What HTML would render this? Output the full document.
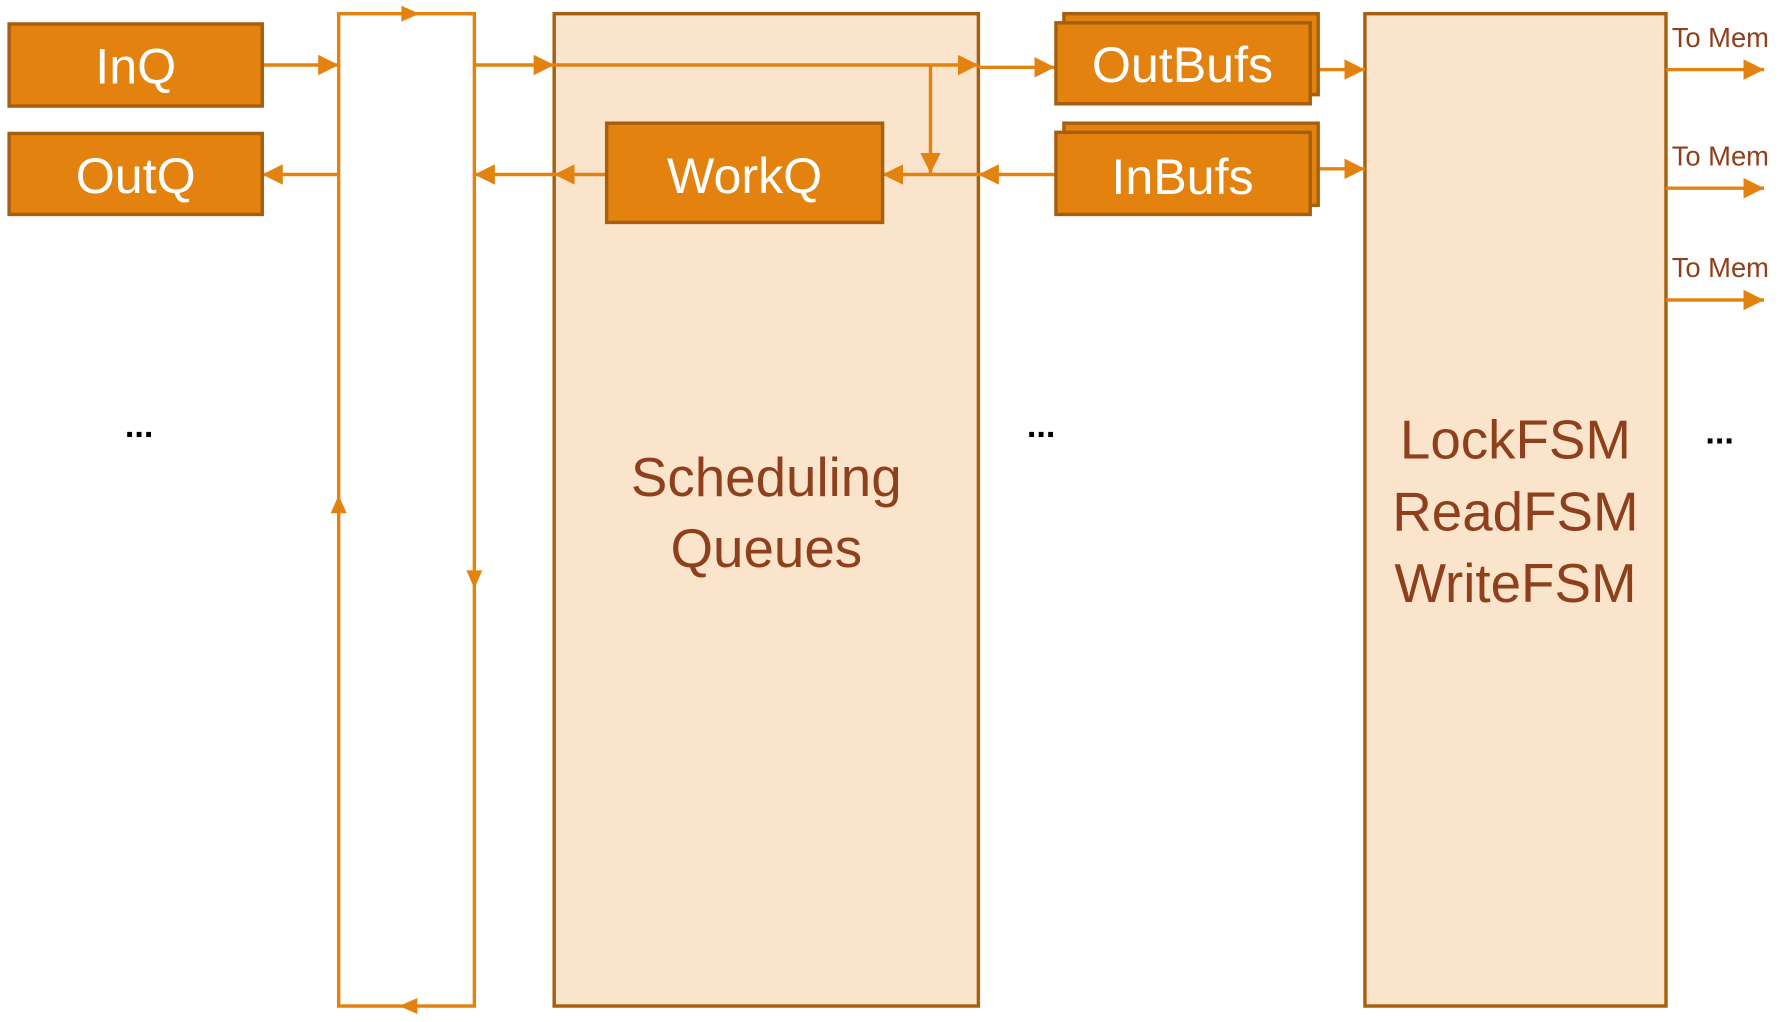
<!DOCTYPE html>
<html><head><meta charset="utf-8"><style>html,body{margin:0;padding:0;background:#fff}svg{display:block}</style></head><body>
<svg width="1788" height="1022" viewBox="0 0 1568 896" preserveAspectRatio="none" xmlns="http://www.w3.org/2000/svg" font-family="'Liberation Sans', sans-serif">
<defs>
<marker id="a" viewBox="0 0 10 10" refX="10" refY="5" markerWidth="5" markerHeight="5" orient="auto-start-reverse" markerUnits="userSpaceOnUse"><path d="M0,0 L10,5 L0,10 z" fill="#E3820F"/></marker>
<marker id="b" viewBox="0 0 10 10" refX="10" refY="5" markerWidth="18" markerHeight="18" orient="auto" markerUnits="userSpaceOnUse"><path d="M0,0 L10,5 L0,10 z" fill="#E3820F"/></marker>
</defs>
<g stroke="#E3820F" stroke-width="3" fill="none">
<rect x="297" y="12" width="119" height="870"/>
</g>
<g fill="#E3820F">
<path d="M352,5 L368,12 L352,19 z"/>
<path d="M366,875 L350,882 L366,889 z"/>
<path d="M290,450 L297,434 L304,450 z"/>
<path d="M409,500 L416,516 L423,500 z"/>
</g>
<rect x="486" y="12" width="372" height="870" fill="#FAE5CC" stroke="#A65F0E" stroke-width="3"/>
<rect x="1197" y="12" width="264" height="870" fill="#FAE5CC" stroke="#A65F0E" stroke-width="3"/>
<g stroke="#E3820F" stroke-width="3" fill="none">
<line x1="230" y1="57" x2="297" y2="57" marker-end="url(#b)"/>
<line x1="297" y1="153" x2="230" y2="153" marker-end="url(#b)"/>
<line x1="416" y1="57" x2="486" y2="57" marker-end="url(#b)"/>
<line x1="486" y1="153" x2="416" y2="153" marker-end="url(#b)"/>
<line x1="486" y1="57" x2="858" y2="57" marker-end="url(#b)"/>
<line x1="858" y1="59" x2="925" y2="59" marker-end="url(#b)"/>
<line x1="816" y1="57" x2="816" y2="152" marker-end="url(#b)"/>
<line x1="532" y1="153" x2="486" y2="153" marker-end="url(#b)"/>
<line x1="858" y1="153" x2="774" y2="153" marker-end="url(#b)"/>
<line x1="925" y1="153" x2="858" y2="153" marker-end="url(#b)"/>
<line x1="1149" y1="61" x2="1197" y2="61" marker-end="url(#b)"/>
<line x1="1149" y1="148" x2="1197" y2="148" marker-end="url(#b)"/>
<line x1="1461" y1="61" x2="1547" y2="61" marker-end="url(#b)"/>
<line x1="1461" y1="165" x2="1547" y2="165" marker-end="url(#b)"/>
<line x1="1461" y1="263" x2="1547" y2="263" marker-end="url(#b)"/>
</g>
<g fill="#E3820F" stroke="#A65F0E" stroke-width="3">
<rect x="8" y="21" width="222" height="72"/>
<rect x="8" y="117" width="222" height="71"/>
<rect x="532" y="108" width="242" height="87"/>
<rect x="933" y="12" width="223" height="71"/>
<rect x="926" y="20" width="223" height="71"/>
<rect x="933" y="108" width="223" height="72"/>
<rect x="926" y="116" width="223" height="72"/>
</g>
<g fill="#fff" font-size="44" text-anchor="middle">
<text x="119" y="73">InQ</text>
<text x="119" y="169">OutQ</text>
<text x="653" y="169">WorkQ</text>
<text x="1037" y="72">OutBufs</text>
<text x="1037" y="170">InBufs</text>
</g>
<g fill="#8E3F1C" font-size="48" text-anchor="middle">
<text x="672" y="435">Scheduling</text>
<text x="672" y="497">Queues</text>
<text x="1329" y="402">LockFSM</text>
<text x="1329" y="465">ReadFSM</text>
<text x="1329" y="528">WriteFSM</text>
</g>
<g fill="#8E3F1C" font-size="24">
<text x="1466" y="41">To Mem</text>
<text x="1466" y="145">To Mem</text>
<text x="1466" y="243">To Mem</text>
</g>
<g fill="#000" font-size="30" text-anchor="middle" font-weight="bold">
<text x="122" y="383">...</text>
<text x="913" y="383">...</text>
<text x="1508" y="389">...</text>
</g>
</svg>
</body></html>
